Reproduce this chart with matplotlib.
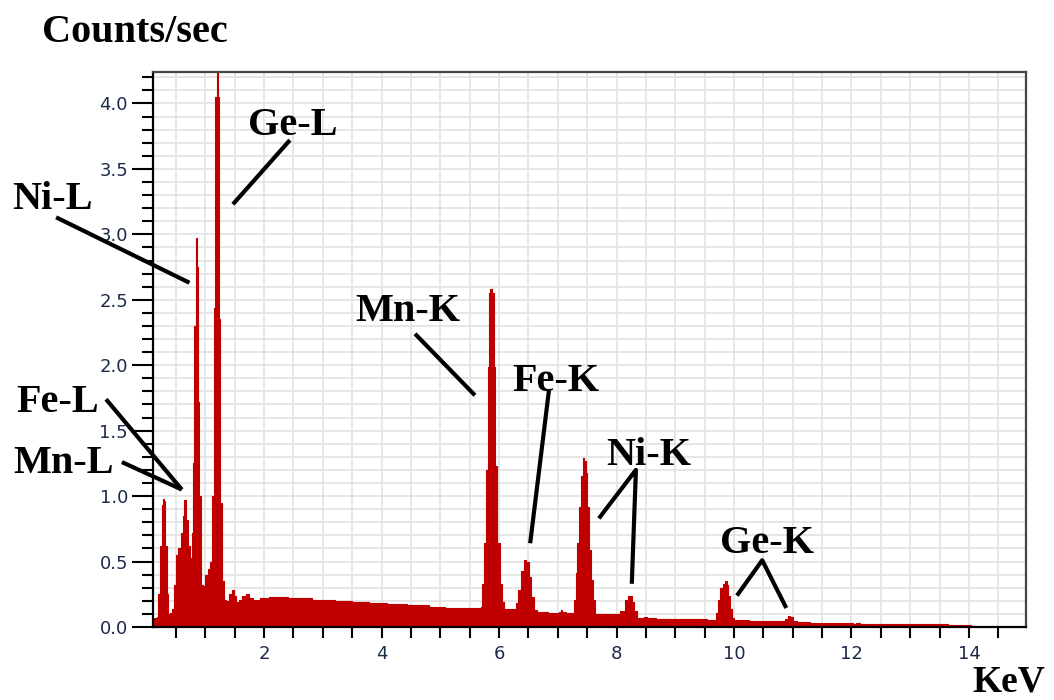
"""EDS spectrum of a Mn-Fe-Ni-Ge sample with labelled emission lines."""

import matplotlib.pyplot as plt
from matplotlib.ticker import MultipleLocator, FormatStrFormatter


# spectrum, read as (energy keV, counts/sec) pairs
energy_kev = [
    0.11, 0.15, 0.19, 0.21, 0.24, 0.27, 0.29, 0.31, 0.33, 0.35, 0.37,
    0.42, 0.46, 0.49, 0.52, 0.56, 0.60, 0.63, 0.66, 0.69, 0.72, 0.75,
    0.78, 0.80, 0.83, 0.855, 0.87, 0.89, 0.91, 0.94, 0.98, 1.02, 1.07,
    1.10, 1.13, 1.16, 1.185, 1.20, 1.215, 1.24, 1.27, 1.30, 1.33, 1.38,
    1.43, 1.47, 1.51, 1.55, 1.60, 1.66, 1.72, 1.78, 1.85, 2.00, 2.16,
    2.33, 2.50, 2.73, 2.90, 3.07, 3.35, 3.65, 3.92, 4.26, 4.60, 5.00,
    5.16, 5.67, 5.70, 5.733, 5.762, 5.79, 5.82, 5.845, 5.86, 5.90, 5.915,
    5.95, 5.99, 6.03, 6.07, 6.10, 6.28, 6.30, 6.36, 6.40, 6.44, 6.48,
    6.53, 6.57, 6.61, 6.67, 7.00, 7.04, 7.06, 7.09, 7.20, 7.265, 7.294,
    7.32, 7.35, 7.38, 7.41, 7.435, 7.46, 7.49, 7.52, 7.55, 7.58, 7.605,
    7.66, 7.80, 8.00, 8.115, 8.17, 8.23, 8.28, 8.316, 8.37, 8.45, 8.50,
    8.55, 8.65, 8.70, 9.00, 9.40, 9.68, 9.72, 9.75, 9.79, 9.82, 9.864,
    9.89, 9.92, 9.944, 9.98, 10.02, 10.50, 10.85, 10.90, 10.94, 10.98,
    11.03, 11.10, 11.50, 12.00, 12.05, 12.10, 12.20, 12.50, 13.00, 13.50,
    13.80, 14.03, 14.05, 14.97,
]
counts_per_sec = [
    0.06, 0.07, 0.08, 0.25, 0.62, 0.93, 0.98, 0.96, 0.62, 0.25, 0.10,
    0.11, 0.14, 0.32, 0.55, 0.60, 0.72, 0.85, 0.97, 0.82, 0.62, 0.53,
    0.72, 1.25, 2.30, 2.97, 2.75, 1.72, 1.00, 0.32, 0.31, 0.40, 0.44,
    0.50, 1.00, 2.44, 4.05, 4.30, 4.05, 2.35, 0.95, 0.35, 0.21, 0.20,
    0.25, 0.28, 0.24, 0.19, 0.21, 0.24, 0.25, 0.22, 0.21, 0.22, 0.227,
    0.228, 0.222, 0.22, 0.21, 0.206, 0.198, 0.193, 0.186, 0.173, 0.168, 0.155,
    0.143, 0.143, 0.15, 0.33, 0.64, 1.20, 1.99, 2.55, 2.58, 2.55, 1.99,
    1.23, 0.64, 0.33, 0.19, 0.14, 0.135, 0.18, 0.28, 0.43, 0.51, 0.50,
    0.38, 0.23, 0.13, 0.115, 0.11, 0.115, 0.13, 0.115, 0.11, 0.11, 0.21,
    0.41, 0.64, 0.92, 1.15, 1.29, 1.27, 1.18, 0.92, 0.59, 0.36, 0.21,
    0.10, 0.10, 0.10, 0.12, 0.21, 0.24, 0.19, 0.12, 0.07, 0.065, 0.075,
    0.065, 0.07, 0.06, 0.06, 0.06, 0.055, 0.11, 0.21, 0.30, 0.33, 0.35,
    0.32, 0.24, 0.14, 0.07, 0.05, 0.045, 0.045, 0.06, 0.085, 0.075,
    0.045, 0.035, 0.033, 0.03, 0.02, 0.03, 0.025, 0.022, 0.02, 0.02,
    0.018, 0.015, 0.0, 0.0,
]

# line labels: text anchor (keV, counts) and leader-line vertices
line_labels = ["Ni-L", "Fe-L", "Mn-L", "Ge-L", "Mn-K", "Fe-K", "Ni-K", "Ge-K"]
label_pos = [
    (-2.28, 3.19), (-2.22, 1.64), (-2.27, 1.18), (1.73, 3.76),
    (3.55, 2.34), (6.22, 1.80), (7.82, 1.24), (9.76, 0.565),
]
leader_x = [
    [-1.54, 0.73], [-0.69, 0.60], [-0.42, 0.60], [2.44, 1.47],
    [4.57, 5.59], [6.85, 6.53], [7.70, 8.33, 8.26], [10.05, 10.48, 10.89],
]
leader_y = [
    [3.13, 2.63], [1.74, 1.05], [1.26, 1.05], [3.72, 3.23],
    [2.24, 1.77], [1.81, 0.64], [0.83, 1.20, 0.33], [0.24, 0.51, 0.145],
]

label_font = dict(family="Liberation Serif", weight="bold", size=29)
spec_color = "#c00000"

fig = plt.figure(figsize=(10.54, 7.0), dpi=100)
ax = fig.add_axes([0.1452, 0.1043, 0.8282, 0.7928])

# histogram-like spectrum: solid fill plus a smooth step outline
ax.fill_between(energy_kev, counts_per_sec, step="mid", color=spec_color,
                lw=0, antialiased=False)
ax.plot(energy_kev, counts_per_sec, drawstyle="steps-mid", color=spec_color,
        lw=0.8)

ax.set_xlim(0.11, 14.97)
ax.set_ylim(0, 4.24)

ax.xaxis.set_major_locator(MultipleLocator(2))
ax.xaxis.set_minor_locator(MultipleLocator(0.5))
ax.yaxis.set_major_locator(MultipleLocator(0.5))
ax.yaxis.set_minor_locator(MultipleLocator(0.1))
ax.yaxis.set_major_formatter(FormatStrFormatter("%.1f"))

ax.grid(which="both", color="#e2e2e2", lw=1.2)
ax.set_axisbelow(True)

ax.tick_params(axis="x", which="both", length=8, width=1.5, direction="out",
               labelsize=13, labelcolor="#1c2a4a", pad=5)
ax.tick_params(axis="y", which="major", length=15, width=1.5,
               labelsize=13, labelcolor="#1c2a4a", pad=3)
ax.tick_params(axis="y", which="minor", length=8, width=1.5)

for side in ["left", "bottom"]:
    ax.spines[side].set_linewidth(1.6)
    ax.spines[side].set_color("black")
for side in ["top", "right"]:
    ax.spines[side].set_linewidth(1.6)
    ax.spines[side].set_color("#444444")

for name, (tx, ty), lx, ly in zip(line_labels, label_pos, leader_x, leader_y):
    ax.text(tx, ty, name, ha="left", va="baseline", clip_on=False, **label_font)
    ax.plot(lx, ly, color="black", lw=3.0, solid_capstyle="butt",
            clip_on=False)

fig.text(0.0398, 0.94, "Counts/sec", ha="left", va="baseline", **label_font)
fig.text(0.923, 0.012, "KeV", ha="left", va="baseline",
         family="Liberation Serif", weight="bold", size=27)

fig.savefig("out.png", dpi=100)
plt.close(fig)
